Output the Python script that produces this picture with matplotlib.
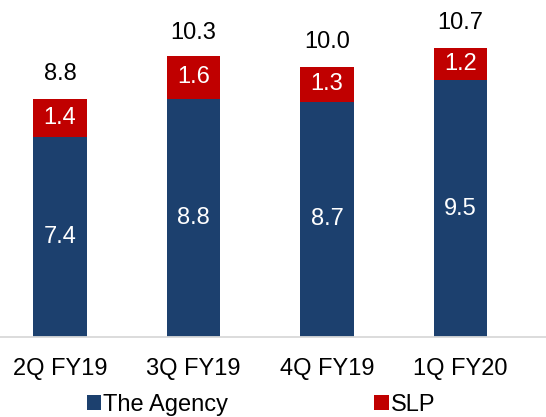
import numpy as np
import matplotlib.pyplot as plt

plt.rcParams['font.family'] = ['Liberation Sans', 'DejaVu Sans']

quarters = ['2Q FY19', '3Q FY19', '4Q FY19', '1Q FY20']
agency = [7.4, 8.8, 8.7, 9.5]
slp = [1.4, 1.6, 1.3, 1.2]
totals = [8.8, 10.3, 10.0, 10.7]

blue = '#1C406E'
red = '#C00000'

fig = plt.figure(figsize=(5.46, 4.17), dpi=100)
ax = fig.add_axes([0, 80 / 417, 1, 337 / 417])

x = np.arange(len(quarters))
w = 0.4
b1 = ax.bar(x, agency, w, color=blue, label='The Agency')
b2 = ax.bar(x, slp, w, bottom=agency, color=red, label='SLP')

for i in range(len(x)):
    ax.text(x[i], agency[i] / 2, f'{agency[i]:.1f}', ha='center', va='center',
            color='white', fontsize=17)
    ax.text(x[i], agency[i] + slp[i] / 2, f'{slp[i]:.1f}', ha='center', va='center',
            color='white', fontsize=17)
    ax.text(x[i], totals[i] + 0.92, f'{totals[i]:.1f}', ha='center', va='center',
            color='black', fontsize=17)

ax.set_xlim(-60 / 133.5, 486 / 133.5)
ax.set_ylim(0, 337 / 27.05)
for s in ['top', 'right', 'left']:
    ax.spines[s].set_visible(False)
ax.spines['bottom'].set_color('#D9D9D9')
ax.spines['bottom'].set_linewidth(1.3)
ax.set_yticks([])
ax.set_xticks(x)
ax.set_xticklabels(quarters, fontsize=17)
ax.tick_params(axis='x', length=0, pad=15)

fig.legend(handles=[b1, b2], loc='center', bbox_to_anchor=(0.478, 12 / 417),
           ncol=2, frameon=False, fontsize=17, handlelength=0.6, handleheight=0.6,
           handletextpad=0.1, columnspacing=6.2)

fig.savefig('out.png', dpi=100)
